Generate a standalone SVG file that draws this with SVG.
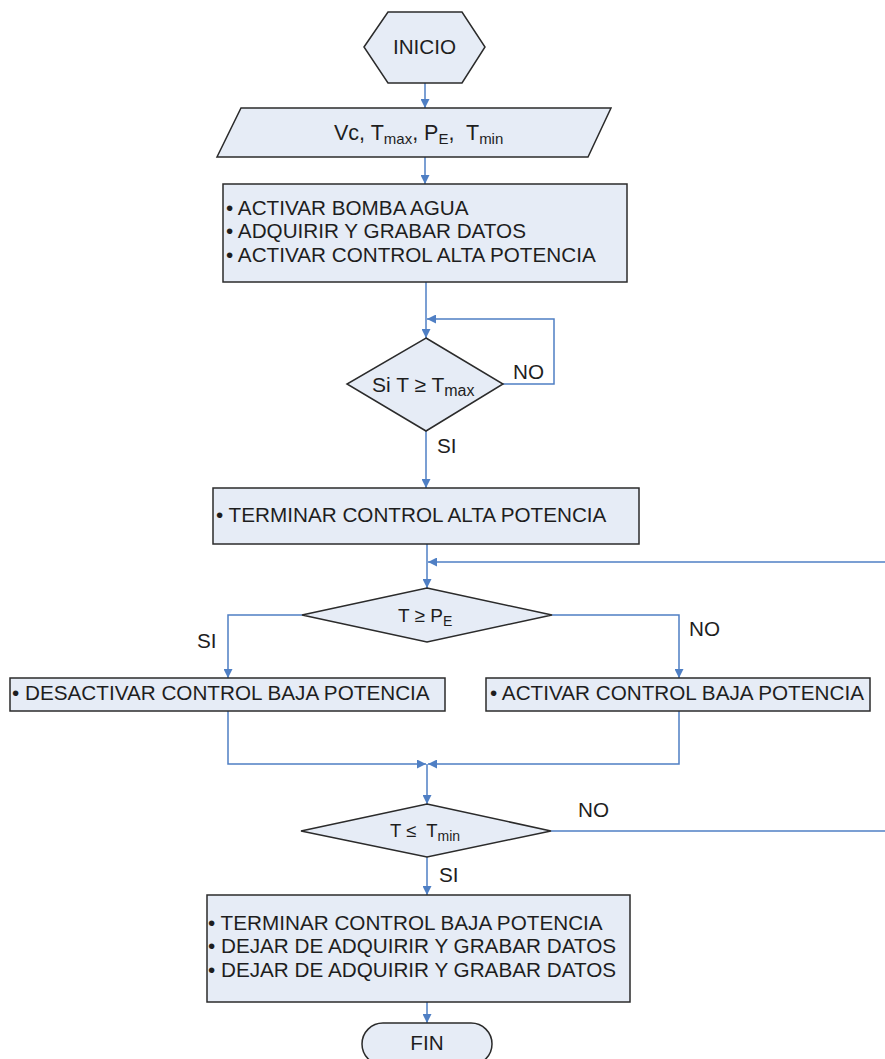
<svg xmlns="http://www.w3.org/2000/svg" width="885" height="1059" viewBox="0 0 885 1059">
<style>
.shape{fill:#E6ECF6;stroke:#2b2b2b;stroke-width:1.5}
.t{font-family:"Liberation Sans",Arial,sans-serif;font-size:20.7px;fill:#1e1e1e}
.s{font-size:15px}
.c{fill:none;stroke:#4F7FC4;stroke-width:1.5}
</style>
<defs>
<marker id="ah" viewBox="0 0 10 10" refX="10" refY="5" markerWidth="9" markerHeight="9" markerUnits="userSpaceOnUse" orient="auto">
<path d="M0,0 L10,5 L0,10 z" fill="#4F7FC4"/>
</marker>
</defs>
<rect width="885" height="1059" fill="#ffffff"/>
<g id="connectors">
<path class="c" d="M425,83 V108" marker-end="url(#ah)"/>
<path class="c" d="M425,157 V184" marker-end="url(#ah)"/>
<path class="c" d="M426,282 V338" marker-end="url(#ah)"/>
<path class="c" d="M503,384 H554 V319 H427" marker-end="url(#ah)"/>
<path class="c" d="M426,431 V488" marker-end="url(#ah)"/>
<path class="c" d="M427,544 V588" marker-end="url(#ah)"/>
<path class="c" d="M885,562 H428" marker-end="url(#ah)"/>
<path class="c" d="M302,615 H228 V678" marker-end="url(#ah)"/>
<path class="c" d="M552,615 H679 V678" marker-end="url(#ah)"/>
<path class="c" d="M228,711 V764 H426" marker-end="url(#ah)"/>
<path class="c" d="M679,711 V764 H428" marker-end="url(#ah)"/>
<path class="c" d="M427,764 V804" marker-end="url(#ah)"/>
<path class="c" d="M551,831 H885"/>
<path class="c" d="M427,857 V895" marker-end="url(#ah)"/>
<path class="c" d="M427,1002 V1023" marker-end="url(#ah)"/>
<text class="t" x="513" y="379">NO</text>
<text class="t" x="437" y="453">SI</text>
<text class="t" x="197" y="648">SI</text>
<text class="t" x="689" y="636">NO</text>
<text class="t" x="578" y="817">NO</text>
<text class="t" x="439" y="882">SI</text>
</g>
<g id="inicio">
<polygon class="shape" points="364,47 388,12 462,12 485,47 462,83 388,83"/>
<text class="t" x="424.5" y="54" text-anchor="middle">INICIO</text>
</g>
<g id="entrada">
<polygon class="shape" points="241,108 611,108 588,157 217,157"/>
<text class="t" y="140" x="334" xml:space="preserve" style="font-size:21.5px">Vc, T<tspan class="s" dy="4">max</tspan><tspan dy="-4">, P</tspan><tspan class="s" dy="4">E</tspan><tspan dy="-4">,  T</tspan><tspan class="s" dy="4">min</tspan></text>
</g>
<g id="proceso1">
<rect class="shape" x="223" y="184" width="404" height="98"/>
<text class="t" x="226" y="215">• ACTIVAR BOMBA AGUA</text>
<text class="t" x="226" y="238">• ADQUIRIR Y GRABAR DATOS</text>
<text class="t" x="226" y="262">• ACTIVAR CONTROL ALTA POTENCIA</text>
</g>
<g id="decision1">
<polygon class="shape" points="426,338 503,384 426,431 347,384"/>
<text class="t" y="392" style="font-size:21px"><tspan x="372">Si T ≥ T</tspan><tspan style="font-size:16px" dy="4">max</tspan></text>
</g>
<g id="proceso2">
<rect class="shape" x="213" y="488" width="426" height="56"/>
<text class="t" x="216" y="522">• TERMINAR CONTROL ALTA POTENCIA</text>
</g>
<g id="decision2">
<polygon class="shape" points="427,588 552,615 427,642 302,615"/>
<text class="t" y="622" style="font-size:19px"><tspan x="398">T ≥ P</tspan><tspan style="font-size:14px" dy="4">E</tspan></text>
</g>
<g id="proceso3">
<rect class="shape" x="10" y="678" width="435" height="33"/>
<text class="t" x="12" y="700">• DESACTIVAR CONTROL BAJA POTENCIA</text>
</g>
<g id="proceso4">
<rect class="shape" x="486" y="678" width="384" height="33"/>
<text class="t" x="490" y="700">• ACTIVAR CONTROL BAJA POTENCIA</text>
</g>
<g id="decision3">
<polygon class="shape" points="427,804 551,831 427,857 301,831"/>
<text class="t" y="837" style="font-size:18.5px"><tspan x="390" xml:space="preserve">T ≤  T</tspan><tspan style="font-size:14px" dy="4">min</tspan></text>
</g>
<g id="proceso5">
<rect class="shape" x="207" y="895" width="423" height="107"/>
<text class="t" x="208" y="930">• TERMINAR CONTROL BAJA POTENCIA</text>
<text class="t" x="208" y="953">• DEJAR DE ADQUIRIR Y GRABAR DATOS</text>
<text class="t" x="208" y="977">• DEJAR DE ADQUIRIR Y GRABAR DATOS</text>
</g>
<g id="fin">
<rect class="shape" x="362" y="1023" width="130" height="42" rx="21" ry="21"/>
<text class="t" x="427" y="1050" text-anchor="middle">FIN</text>
</g>
</svg>
